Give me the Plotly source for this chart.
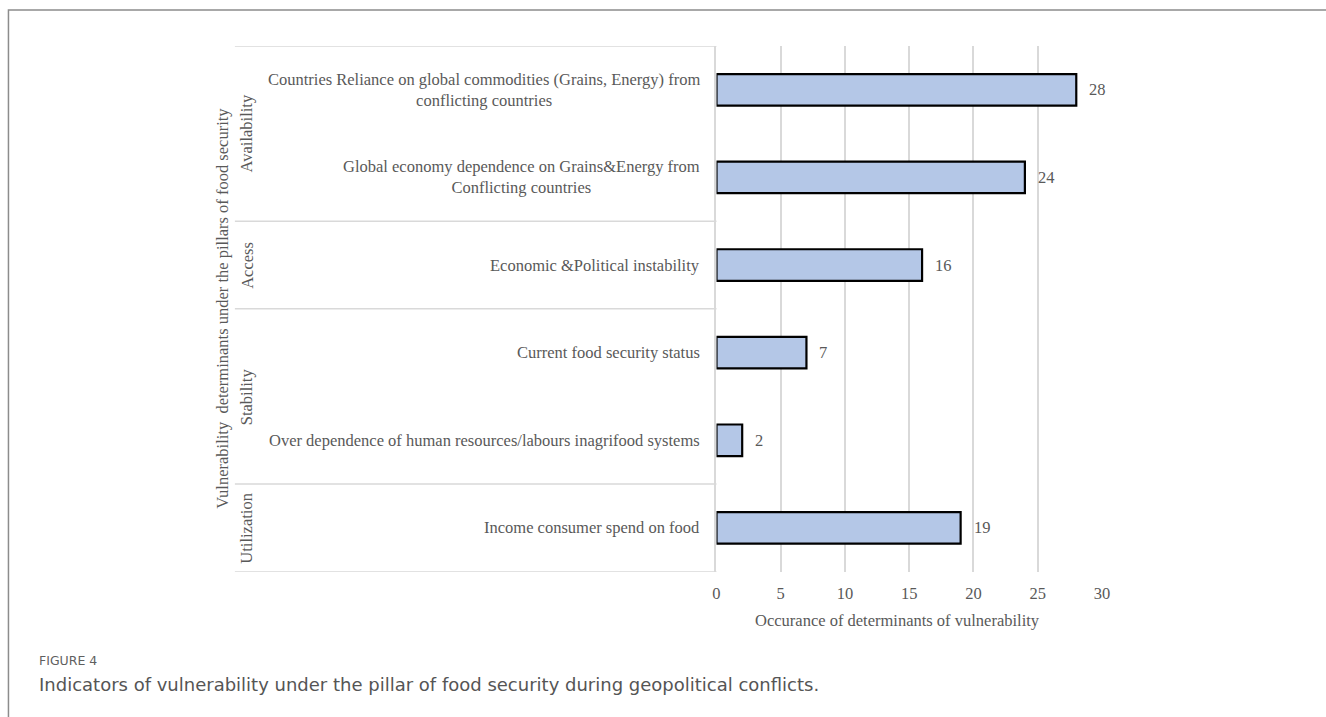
import plotly.graph_objects as go

# Determinants of vulnerability, listed top to bottom
determinants = [
    "Countries Reliance on global commodities (Grains, Energy) from<br>conflicting countries",
    "Global economy dependence on Grains&Energy from<br>Conflicting countries",
    "Economic &Political instability",
    "Current food security status",
    "Over dependence of human resources/labours inagrifood systems",
    "Income consumer spend on food",
]
occurrences = [28, 24, 16, 7, 2, 19]

# Pillars of food security and the rows (by index) that each one spans
pillars = ["Availability", "Access", "Stability", "Utilization"]
pillar_first_row = [0, 2, 3, 5]
pillar_last_row = [1, 2, 4, 5]

x_ticks = [0, 5, 10, 15, 20, 25, 30]

W, H = 1326, 717
SERIF = "Liberation Serif, Times New Roman, serif"
SANS = "DejaVu Sans, Open Sans, sans-serif"
TEXT_GREY = "#595959"
GRID = "#d9d9d9"


def px_x(p):
    return p / W


def px_y(p):
    return 1 - p / H


row_ids = list(range(len(determinants)))

fig = go.Figure()
fig.add_trace(go.Bar(
    x=occurrences,
    y=row_ids,
    orientation="h",
    width=0.36,
    marker=dict(color="#b4c7e7", line=dict(color="#000000", width=2.2)),
    hoverinfo="x",
    showlegend=False,
))

annotations = []

# Category labels to the left of the axis
for i, label in enumerate(determinants):
    annotations.append(dict(
        x=0, y=i, xref="x", yref="y", text=label, showarrow=False,
        xanchor="right", yanchor="middle", align="center", xshift=-14,
        font=dict(family=SERIF, size=16.5, color=TEXT_GREY),
    ))

# Value labels at the end of each bar
for i, v in enumerate(occurrences):
    annotations.append(dict(
        x=v, y=i, xref="x", yref="y", text=str(v), showarrow=False,
        xanchor="left", yanchor="middle", xshift=11,
        font=dict(family=SERIF, size=16.5, color=TEXT_GREY),
    ))

# Pillar group labels (rotated)
for name, a, b in zip(pillars, pillar_first_row, pillar_last_row):
    annotations.append(dict(
        x=px_x(245), y=(a + b) / 2, xref="paper", yref="y", text=name,
        showarrow=False, textangle=-90, xanchor="center", yanchor="middle",
        font=dict(family=SERIF, size=16.5, color=TEXT_GREY),
    ))

# Axis titles
annotations.append(dict(
    x=px_x(221), y=(px_y(46) + px_y(571.7)) / 2, xref="paper", yref="paper",
    text="Vulnerability\u00a0 determinants under the pillars of food security",
    showarrow=False, textangle=-90, xanchor="center", yanchor="middle",
    font=dict(family=SERIF, size=16.5, color=TEXT_GREY),
))
annotations.append(dict(
    x=px_x(902), y=px_y(620), xref="paper", yref="paper",
    text="Occurance of determinants of vulnerability",
    showarrow=False, xanchor="center", yanchor="middle",
    font=dict(family=SERIF, size=16.5, color=TEXT_GREY),
))

# Figure caption
annotations.append(dict(
    x=px_x(34), y=px_y(660), xref="paper", yref="paper", text="FIGURE 4",
    showarrow=False, xanchor="left", yanchor="middle", borderpad=0,
    font=dict(family=SANS, size=12.5, color="#5f5f5f"),
))
annotations.append(dict(
    x=px_x(34), y=px_y(684), xref="paper", yref="paper",
    text="Indicators of vulnerability under the pillar of food security during geopolitical conflicts.",
    showarrow=False, xanchor="left", yanchor="middle", borderpad=0,
    font=dict(family=SANS, size=18, color="#555555"),
))

shapes = []
# Table separators between pillar groups
for yb in [-0.5, 1.5, 2.5, 4.5, 5.5]:
    shapes.append(dict(
        type="line", xref="paper", yref="y",
        x0=px_x(233), x1=px_x(719), y0=yb, y1=yb,
        line=dict(color=GRID, width=1.5), layer="below",
    ))
# Outer frame
shapes.append(dict(
    type="rect", xref="paper", yref="paper",
    x0=px_x(4.5), x1=1.02, y0=-0.02, y1=px_y(10),
    line=dict(color="#8c8c8c", width=1.5), layer="below",
))

fig.update_layout(
    width=W, height=H,
    margin=dict(l=0, r=0, t=0, b=0),
    paper_bgcolor="white", plot_bgcolor="white",
    xaxis=dict(
        domain=[px_x(719), px_x(1108)],
        range=[0, 30], tickvals=x_ticks,
        showgrid=True, gridcolor=GRID, gridwidth=1.5,
        zeroline=False, showline=False,
        ticks="outside", ticklen=6, tickcolor="rgba(0,0,0,0)",
        tickfont=dict(family=SERIF, size=16.5, color=TEXT_GREY),
        fixedrange=True,
    ),
    yaxis=dict(
        domain=[px_y(571.7), px_y(46)],
        range=[5.5, -0.5],
        showticklabels=False, showgrid=False, zeroline=False,
        showline=True, linecolor=GRID, linewidth=1.5,
        fixedrange=True,
    ),
    annotations=annotations,
    shapes=shapes,
)

fig.write_html("out.html")
